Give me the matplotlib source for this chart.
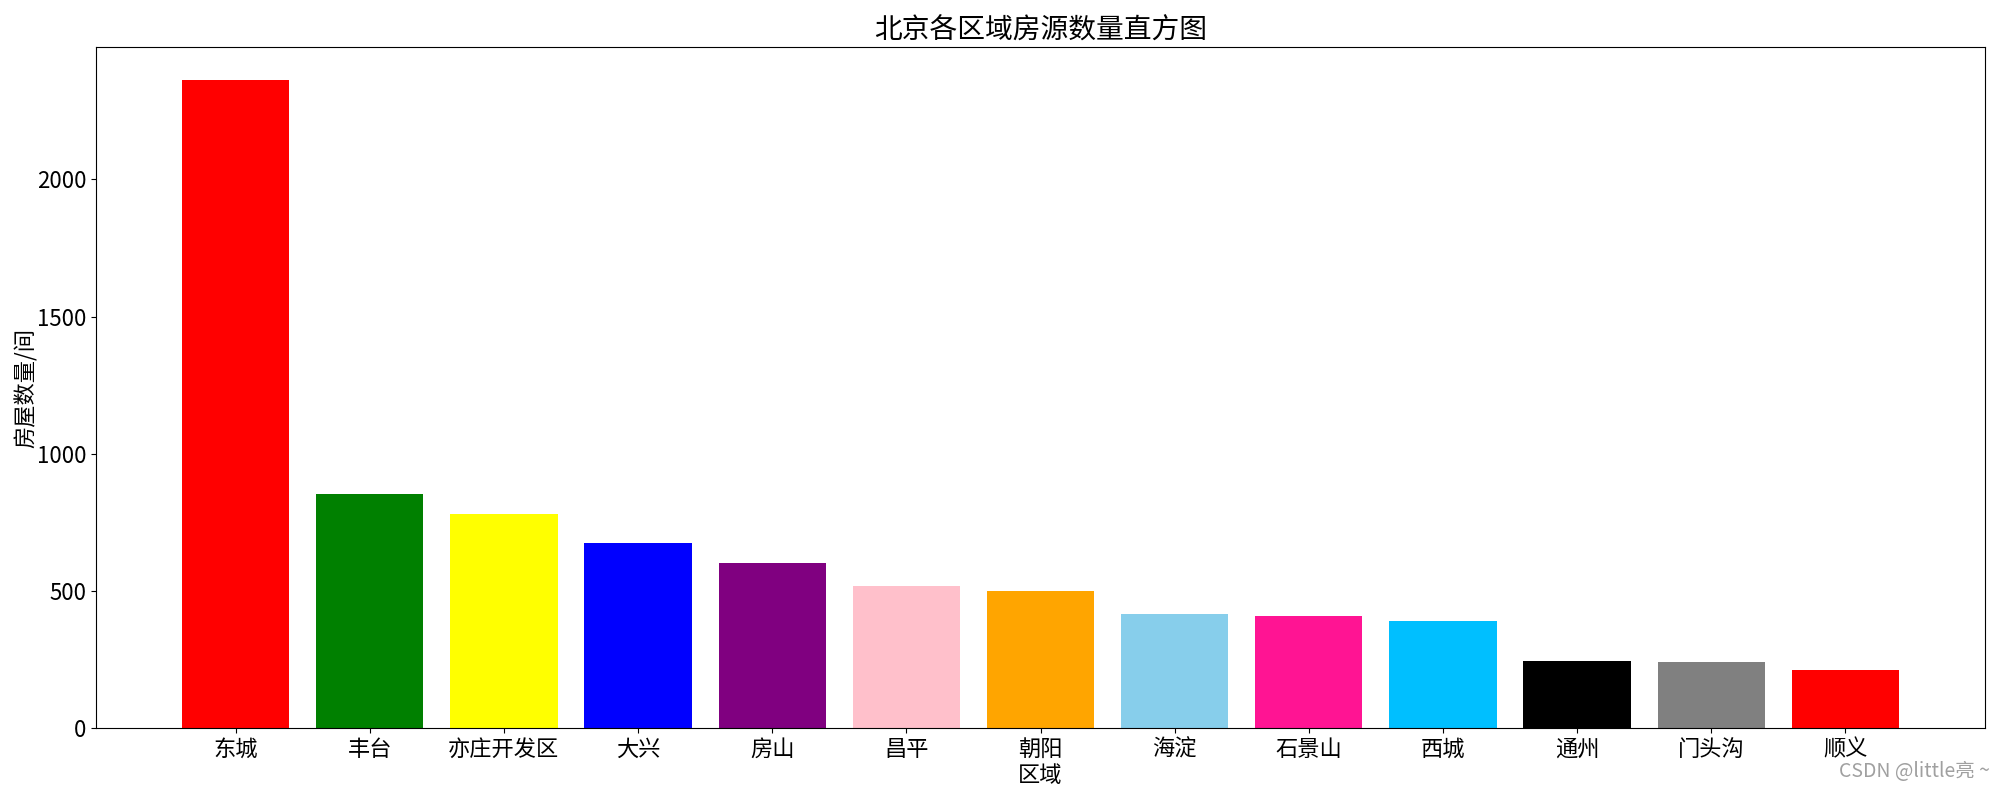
import matplotlib
matplotlib.use("Agg")
import matplotlib.pyplot as plt

plt.rcParams['font.family'] = ['Noto Sans CJK SC', 'DejaVu Sans']
plt.rcParams['axes.unicode_minus'] = False

districts = ['东城', '丰台', '亦庄开发区', '大兴', '房山', '昌平', '朝阳',
             '海淀', '石景山', '西城', '通州', '门头沟', '顺义']
counts = [2364, 853, 780, 674, 601, 518, 500, 416, 409, 391, 245, 241, 212]
colors = ['red', 'green', 'yellow', 'blue', 'purple', 'pink', 'orange',
          'skyblue', 'deeppink', 'deepskyblue', 'black', 'gray', 'red']

fig = plt.figure(figsize=(20, 8), dpi=100)
ax = fig.add_axes([0.048, 0.09, 0.9445, 0.851])
ax.bar(range(len(districts)), counts, width=0.8, color=colors)
ax.set_xticks(range(len(districts)))
ax.set_xticklabels(districts, fontsize=16)
ax.tick_params(axis='y', labelsize=16)
ax.set_xlabel('区域', fontsize=16, labelpad=2)
ax.set_ylabel('房屋数量/间', fontsize=16, labelpad=-1)
ax.set_title('北京各区域房源数量直方图', fontsize=20)

fig.text(0.995, 0.022, 'CSDN @little亮 ~', ha='right', va='bottom',
         fontsize=14, color='#a0a0a0')

fig.savefig('out.png', dpi=100)
